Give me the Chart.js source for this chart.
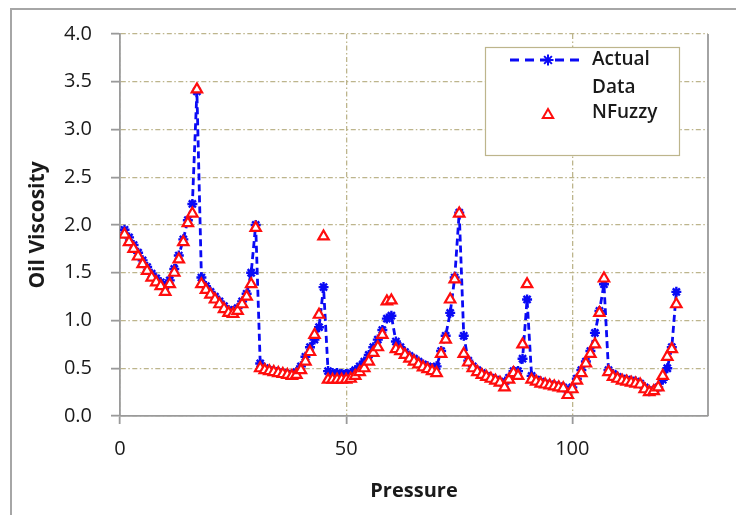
<!DOCTYPE html>
<html>
<head>
<meta charset="utf-8">
<script src="https://cdn.jsdelivr.net/npm/chart.js@4.4.0/dist/chart.umd.min.js"></script>
<style>
  html, body { margin: 0; padding: 0; background: #fff; overflow: hidden; }
  #frame { position: absolute; left: 10px; top: 8px; width: 760px; height: 540px; border: 2px solid #a6a6a6; box-sizing: border-box; }
  #wrap { position: absolute; left: 0; top: 0; width: 736px; height: 515px; }
</style>
</head>
<body>
<div id="frame"></div>
<div id="wrap"><canvas id="viscChart" width="736" height="515"></canvas></div>
<script>
// DATI DEL GRAFICO
const pressure = [
  1, 2, 3, 4, 5, 6, 7, 8, 9, 10, 11, 12, 13, 14, 15, 16, 17, 18, 19, 20,
  21, 22, 23, 24, 25, 26, 27, 28, 29, 30, 31, 32, 33, 34, 35, 36, 37, 38, 39, 40,
  41, 42, 43, 44, 45, 46, 47, 48, 49, 50, 51, 52, 53, 54, 55, 56, 57, 58, 59, 60,
  61, 62, 63, 64, 65, 66, 67, 68, 69, 70, 71, 72, 73, 74, 75, 76, 77, 78, 79, 80,
  81, 82, 83, 84, 85, 86, 87, 88, 89, 90, 91, 92, 93, 94, 95, 96, 97, 98, 99, 100,
  101, 102, 103, 104, 105, 106, 107, 108, 109, 110, 111, 112, 113, 114, 115, 116, 117, 118, 119, 120,
  121, 122, 123
];

const actualData = [
  1.95, 1.87, 1.79, 1.71, 1.63, 1.56, 1.49, 1.44, 1.40, 1.36,
  1.42, 1.54, 1.68, 1.85, 2.05, 2.22, 3.40, 1.45, 1.36, 1.30,
  1.25, 1.20, 1.15, 1.11, 1.10, 1.13, 1.20, 1.28, 1.50, 2.00,
  0.55, 0.50, 0.48, 0.47, 0.46, 0.45, 0.44, 0.44, 0.46, 0.52,
  0.62, 0.72, 0.80, 0.93, 1.35, 0.47, 0.45, 0.45, 0.44, 0.44,
  0.45, 0.48, 0.52, 0.57, 0.64, 0.72, 0.80, 0.90, 1.02, 1.05,
  0.78, 0.72, 0.67, 0.63, 0.60, 0.57, 0.54, 0.52, 0.50, 0.52,
  0.68, 0.84, 1.08, 1.45, 2.13, 0.84, 0.58, 0.52, 0.48, 0.45,
  0.42, 0.40, 0.38, 0.36, 0.34, 0.40, 0.47, 0.47, 0.60, 1.22,
  0.42, 0.38, 0.36, 0.34, 0.33, 0.32, 0.31, 0.30, 0.27, 0.30,
  0.39, 0.48, 0.57, 0.68, 0.87, 1.10, 1.38, 0.48, 0.44, 0.41,
  0.39, 0.38, 0.37, 0.36, 0.34, 0.30, 0.26, 0.27, 0.30, 0.38,
  0.50, 0.72, 1.30
];

const nfuzzyData = [
  1.90, 1.82, 1.75, 1.67, 1.59, 1.52, 1.45, 1.40, 1.36, 1.30,
  1.38, 1.50, 1.64, 1.82, 2.02, 2.12, 3.42, 1.38, 1.32, 1.27,
  1.22, 1.17, 1.12, 1.08, 1.07, 1.10, 1.17, 1.25, 1.38, 1.97,
  0.50, 0.48, 0.47, 0.46, 0.45, 0.44, 0.43, 0.42, 0.43, 0.48,
  0.57, 0.67, 0.85, 1.06, 1.88, 0.38, 0.38, 0.38, 0.38, 0.38,
  0.39, 0.42, 0.46, 0.50, 0.57, 0.66, 0.72, 0.85, 1.20, 1.21,
  0.70, 0.68, 0.64, 0.60, 0.57, 0.54, 0.51, 0.49, 0.47, 0.45,
  0.65, 0.80, 1.22, 1.43, 2.12, 0.65, 0.56, 0.50, 0.46, 0.43,
  0.41, 0.39, 0.37, 0.35, 0.30, 0.38, 0.45, 0.42, 0.75, 1.38,
  0.38, 0.36, 0.34, 0.33, 0.32, 0.31, 0.30, 0.29, 0.22, 0.28,
  0.37, 0.45, 0.55, 0.65, 0.75, 1.08, 1.44, 0.46, 0.41, 0.39,
  0.37, 0.36, 0.35, 0.34, 0.33, 0.28, 0.25, 0.26, 0.30, 0.42,
  0.62, 0.70, 1.17
];

const seriesNames = ["Actual Data", "NFuzzy"];
const xTickValues = [0, 50, 100];

const BLU = '#0a0af5';
const ROSSO = '#ff0d0d';
const GRIGLIA = '#bdb58c';
const ASSE = '#9a9a9a';
const FONT = "'Open Sans', 'Liberation Sans', sans-serif";

// LEGENDA DISEGNATA DENTRO L'AREA DEL GRAFICO
const legendaBox = {
  id: 'legendaBox',
  afterDraw(chart) {
    const ctx = chart.ctx;
    const bx = 485, by = 47, bw = 194, bh = 108;
    ctx.save();
    ctx.fillStyle = '#fff';
    ctx.fillRect(bx, by, bw, bh);
    ctx.strokeStyle = GRIGLIA;
    ctx.lineWidth = 1.2;
    ctx.strokeRect(bx + 0.5, by + 0.5, bw, bh);

    // campione serie Actual
    ctx.strokeStyle = BLU;
    ctx.lineWidth = 2.8;
    ctx.setLineDash([9, 6]);
    ctx.beginPath();
    ctx.moveTo(510, 60);
    ctx.lineTo(580, 60);
    ctx.stroke();
    ctx.setLineDash([]);
    ctx.lineWidth = 2;
    Chart.helpers.drawPoint(ctx, { pointStyle: 'star', radius: 5.5, rotation: 0, borderWidth: 2 }, 548, 60);

    // campione serie NFuzzy
    ctx.strokeStyle = ROSSO;
    ctx.fillStyle = '#fff';
    ctx.lineWidth = 2;
    Chart.helpers.drawPoint(ctx, { pointStyle: 'triangle', radius: 6, rotation: 0, borderWidth: 2 }, 548, 115);

    ctx.fillStyle = '#1a1a1a';
    ctx.font = '600 19px ' + FONT;
    ctx.textBaseline = 'middle';
    ctx.textAlign = 'left';
    const parole = seriesNames[0].split(' ');
    ctx.fillText(parole[0], 592, 60);
    ctx.fillText(parole[1], 592, 88);
    ctx.fillText(seriesNames[1], 592, 113);
    ctx.restore();
  }
};

// BORDO DESTRO DELL'AREA DEL GRAFICO
const bordoDestro = {
  id: 'bordoDestro',
  beforeDatasetsDraw(chart) {
    const { ctx, chartArea } = chart;
    ctx.save();
    ctx.strokeStyle = ASSE;
    ctx.lineWidth = 1.8;
    ctx.beginPath();
    ctx.moveTo(chartArea.right, chartArea.top);
    ctx.lineTo(chartArea.right, chartArea.bottom);
    ctx.stroke();
    ctx.restore();
  }
};

const ctx = document.getElementById('viscChart').getContext('2d');
const chart = new Chart(ctx, {
  type: 'line',
  data: {
    datasets: [
      {
        label: seriesNames[0],
        data: pressure.map((p, i) => ({ x: p, y: actualData[i] })),
        borderColor: BLU,
        borderWidth: 2.8,
        borderDash: [7, 4],
        pointStyle: 'star',
        pointRadius: 5,
        pointBorderWidth: 2.4,
        pointBorderColor: BLU,
        pointBackgroundColor: BLU,
        tension: 0,
        order: 1
      },
      {
        label: seriesNames[1],
        data: pressure.map((p, i) => ({ x: p, y: nfuzzyData[i] })),
        showLine: false,
        pointStyle: 'triangle',
        pointRadius: 6,
        pointBorderWidth: 2.2,
        pointBorderColor: ROSSO,
        pointBackgroundColor: '#fff',
        order: 0
      }
    ]
  },
  options: {
    responsive: false,
    animation: false,
    events: [],
    layout: { padding: { left: 0, top: 34, right: 28, bottom: 0 } },
    plugins: {
      legend: { display: false },
      tooltip: { enabled: false }
    },
    scales: {
      x: {
        type: 'linear',
        min: 0,
        max: 130,
        afterBuildTicks: (s) => { s.ticks = xTickValues.map(v => ({ value: v })); },
        afterFit: (s) => { s.height = 99; },
        ticks: {
          color: '#1a1a1a',
          font: { family: FONT, size: 20 },
          padding: 13,
          maxRotation: 0
        },
        grid: {
          color: GRIGLIA,
          lineWidth: 1.3,
          drawTicks: true,
          tickLength: 8,
          tickColor: ASSE,
          tickWidth: 1.8
        },
        border: { display: true, color: ASSE, width: 1.8, dash: [5, 2.5, 1.5, 2.5] },
        title: {
          display: true,
          text: 'Pressure',
          color: '#1a1a1a',
          font: { family: FONT, size: 20, weight: 'bold' },
          padding: { top: 0, bottom: 12 }
        }
      },
      y: {
        min: 0,
        max: 4,
        afterFit: (s) => { s.width = 120; },
        ticks: {
          stepSize: 0.5,
          color: '#1a1a1a',
          font: { family: FONT, size: 20 },
          padding: 19,
          callback: (v) => Number(v).toFixed(1)
        },
        grid: {
          color: GRIGLIA,
          lineWidth: 1.3,
          drawTicks: true,
          tickLength: 9,
          tickColor: ASSE,
          tickWidth: 1.8
        },
        border: { display: true, color: ASSE, width: 1.8, dash: [5, 2.5, 1.5, 2.5] },
        title: {
          display: true,
          text: 'Oil Viscosity',
          color: '#1a1a1a',
          font: { family: FONT, size: 21, weight: 'bold' },
          padding: { top: 25, bottom: 0 }
        }
      }
    }
  },
  plugins: [bordoDestro, legendaBox]
});
</script>
</body>
</html>
